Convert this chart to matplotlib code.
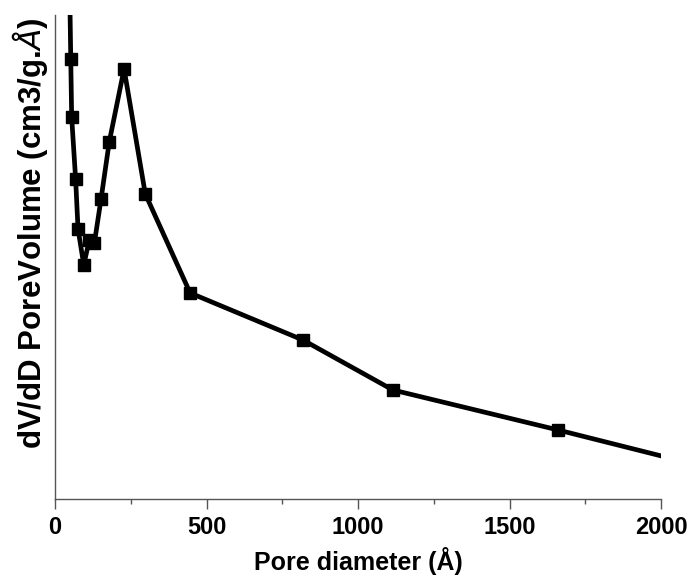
import matplotlib.pyplot as plt
from matplotlib.ticker import MultipleLocator

plt.rcParams['font.family'] = ['Liberation Sans', 'DejaVu Sans']
plt.rcParams['mathtext.fontset'] = 'dejavusans'

# pore size distribution (arbitrary y units)
pore_d = [46, 52, 55, 68, 76, 95, 113, 130, 152, 179, 228, 298, 446, 818, 1115, 1660, 2500]
dv_dd = [5.60, 4.40, 3.82, 3.20, 2.70, 2.34, 2.59, 2.56, 3.00, 3.57, 4.30, 3.05, 2.06,
         1.59, 1.09, 0.69, 0.05]

fig = plt.figure(figsize=(6.91, 5.80), dpi=100)
ax = fig.add_axes([0.0796, 0.1397, 0.877, 0.8345])

ax.plot(pore_d, dv_dd, color='black', lw=3.4, marker='s', ms=8.5,
        mfc='black', mec='black', clip_on=True)

ax.set_xlim(0, 2000)
ax.set_ylim(0, 4.84)

for s in ['top', 'right']:
    ax.spines[s].set_visible(False)
for s in ['left', 'bottom']:
    ax.spines[s].set_color('#555555')
    ax.spines[s].set_linewidth(1.0)

ax.xaxis.set_major_locator(MultipleLocator(500))
ax.xaxis.set_minor_locator(MultipleLocator(250))
ax.tick_params(axis='x', which='major', length=7, width=1, color='#555555',
               labelsize=17, pad=5)
ax.tick_params(axis='x', which='minor', length=3.5, width=1, color='#555555')
ax.set_yticks([])
for lbl in ax.get_xticklabels():
    lbl.set_fontweight('bold')

ax.set_xlabel('Pore diameter (Å)', fontsize=18, fontweight='bold', labelpad=6)
ax.set_ylabel(r'dV/dD PoreVolume (cm3/g.$\mathit{Å}$)', fontsize=22.5,
              fontweight='bold')
ax.yaxis.set_label_coords(-0.008, 0.55)

fig.savefig('out.png', dpi=100)
